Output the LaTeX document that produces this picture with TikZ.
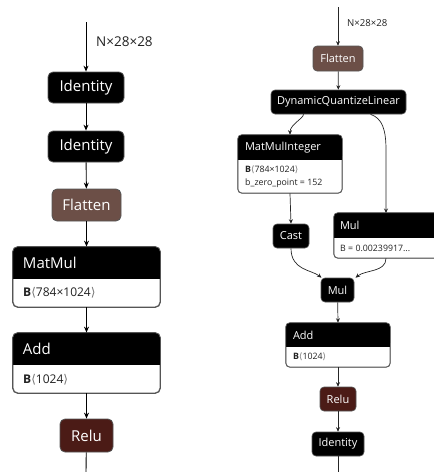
\documentclass[tikz,border=0pt]{standalone}
\usepackage{fontspec}
\setmainfont{Open Sans}
\newfontfamily\symf{DejaVu Sans}
\usetikzlibrary{arrows.meta}
\definecolor{flatc}{HTML}{6C4F47}
\definecolor{reluc}{HTML}{4B1B16}
\definecolor{txtc}{HTML}{222222}
\definecolor{bordc}{HTML}{555555}
\newcommand\lang{{\symf\color{black!55}⟨}}
\newcommand\rang{{\symf\color{black!55}⟩}}
\tikzset{
  opL/.style={draw=bordc, line width=0.8pt, rounded corners=5pt, text=white, inner sep=0pt,
    font=\fontsize{15}{17}\selectfont},
  opR/.style={draw=bordc, line width=0.6pt, rounded corners=4pt, text=white, inner sep=0pt,
    font=\fontsize{11}{13}\selectfont},
  boxL/.style={draw=bordc, line width=0.8pt, rounded corners=5pt, fill=white, inner sep=0pt},
  boxR/.style={draw=bordc, line width=0.6pt, rounded corners=4pt, fill=white, inner sep=0pt},
  hdrL/.style={fill=black, rounded corners=5pt, inner sep=0pt},
  hdrR/.style={fill=black, rounded corners=4pt, inner sep=0pt},
  htL/.style={text=white, inner sep=0pt, anchor=west, font=\fontsize{15}{17}\selectfont},
  htR/.style={text=white, inner sep=0pt, anchor=west, font=\fontsize{11}{13}\selectfont},
  btL/.style={text=txtc, inner sep=0pt, anchor=west, font=\fontsize{12}{14}\selectfont},
  btR/.style={text=txtc, inner sep=0pt, anchor=west, font=\fontsize{8.8}{10.5}\selectfont},
  edgeL/.style={draw=black, line width=0.9pt, -{Stealth[length=6pt,width=5pt]}},
  edgeR/.style={draw=black!85, line width=0.7pt, -{Stealth[length=4.5pt,width=4pt]}},
  lblL/.style={text=txtc, inner sep=0pt, anchor=west, font=\fontsize{13.5}{15}\selectfont},
  lblR/.style={text=txtc, inner sep=0pt, anchor=west, font=\fontsize{9.6}{11}\selectfont},
}
\begin{document}
\begin{tikzpicture}[x=1pt,y=-1pt]
\useasboundingbox (0,0) rectangle (434,472);
\clip (0,0) rectangle (434,472);
% ---------------- left column ----------------
\coordinate (inL) at (86,22);
\node[opL, fill=black, minimum width=76pt, minimum height=31pt] (id1) at (86,87.5) {Identity};
\node[opL, fill=black, minimum width=76pt, minimum height=31pt] (id2) at (86,146.5) {Identity};
\node[opL, fill=flatc, minimum width=69pt, minimum height=32pt] (fl1) at (86.5,205) {Flatten};
% MatMul
\node[boxL, minimum width=147pt, minimum height=60pt] (mm) at (86.5,277) {};
\node[hdrL, minimum width=147pt, minimum height=32pt, anchor=north] (mmh) at (mm.north) {};
\fill[black] ([yshift=8pt]mmh.south west) rectangle (mmh.south east);
\draw[bordc, line width=0.8pt, rounded corners=5pt] (mm.south west) rectangle (mm.north east);
\node[htL] (mmt) at ([xshift=10pt]mmh.west) {MatMul};
\node[btL] (mmb) at (23,293) {\textbf{B}\lang 784×1024\rang};
% Add
\node[boxL, minimum width=147pt, minimum height=60pt] (ad) at (86.5,363) {};
\node[hdrL, minimum width=147pt, minimum height=32pt, anchor=north] (adh) at (ad.north) {};
\fill[black] ([yshift=8pt]adh.south west) rectangle (adh.south east);
\draw[bordc, line width=0.8pt, rounded corners=5pt] (ad.south west) rectangle (ad.north east);
\node[htL] (adt) at ([xshift=10pt]adh.west) {Add};
\node[btL] (adb) at (23,380) {\textbf{B}\lang 1024\rang};
\node[opL, fill=reluc, minimum width=53pt, minimum height=33pt] (re1) at (86.5,435.5) {Relu};
\coordinate (outL) at (86,472);
\node[lblL] (lbl1) at (96,42) {N×28×28};
\draw[edgeL] (inL) -- (id1);
\draw[edgeL] (id1) -- (id2);
\draw[edgeL] (id2) -- (fl1);
\draw[edgeL] (fl1) -- (mm.north);
\draw[edgeL] (mm) -- (ad.north);
\draw[edgeL] (ad) -- (re1);
\draw[line width=0.9pt] (re1) -- (outL);
% ---------------- right column ----------------
\coordinate (inR) at (338,7);
\node[opR, fill=flatc, minimum width=50pt, minimum height=25pt] (fl2) at (338,58.5) {Flatten};
\node[opR, fill=black, minimum width=135pt, minimum height=24pt] (dql) at (338.5,102) {DynamicQuantizeLinear};
% MatMulInteger
\node[boxR, minimum width=104pt, minimum height=58pt] (mmi) at (290,164) {};
\node[hdrR, minimum width=104pt, minimum height=25pt, anchor=north] (mmih) at (mmi.north) {};
\fill[black] ([yshift=6pt]mmih.south west) rectangle (mmih.south east);
\draw[bordc, line width=0.6pt, rounded corners=4pt] (mmi.south west) rectangle (mmi.north east);
\node[htR] (mmit) at ([xshift=7pt]mmih.west) {MatMulInteger};
\node[btR] (mmib1) at (245,170) {\textbf{B}\lang 784×1024\rang};
\node[btR] (mmib2) at (245,183.5) {b\_zero\_point = 152};
% Mul (right, cut)
\node[boxR, minimum width=110pt, minimum height=45pt] (mr) at (389,235.5) {};
\node[hdrR, minimum width=110pt, minimum height=25pt, anchor=north] (mrh) at (mr.north) {};
\fill[black] ([yshift=6pt]mrh.south west) rectangle (mrh.south east);
\draw[bordc, line width=0.6pt, rounded corners=4pt] (mr.south west) rectangle (mr.north east);
\node[htR] (mrt) at ([xshift=6pt]mrh.west) {Mul};
\node[btR] (mrb) at (340,248) {B = 0.00239917...};
\node[opR, fill=black, minimum width=36pt, minimum height=24pt] (cast) at (291,236) {Cast};
\node[opR, fill=black, minimum width=33pt, minimum height=24pt] (mul) at (337.5,290) {Mul};
% Add (right)
\node[boxR, minimum width=104pt, minimum height=44pt] (ad2) at (338,345) {};
\node[hdrR, minimum width=104pt, minimum height=24pt, anchor=north] (ad2h) at (ad2.north) {};
\fill[black] ([yshift=6pt]ad2h.south west) rectangle (ad2h.south east);
\draw[bordc, line width=0.6pt, rounded corners=4pt] (ad2.south west) rectangle (ad2.north east);
\node[htR] (ad2t) at ([xshift=7pt]ad2h.west) {Add};
\node[btR] (ad2b) at (293,357) {\textbf{B}\lang 1024\rang};
\node[opR, fill=reluc, minimum width=36pt, minimum height=24pt] (re2) at (338,399) {Relu};
\node[opR, fill=black, minimum width=52pt, minimum height=24pt] (idr) at (338,444) {Identity};
\coordinate (outR) at (338,472);
\node[lblR] (lbl2) at (347,23) {N×28×28};
\draw[edgeR] (inR) -- (fl2);
\draw[edgeR] (fl2) -- (dql);
\draw[edgeR] ([xshift=-35pt]dql.south) .. controls +(0,4) and +(0,-10) .. (mmi.north);
\draw[edgeR] ([xshift=32pt]dql.south) .. controls +(12,4) and +(0,-20) .. (386,150) -- (386,213);
\draw[edgeR] (mmi.south) -- (cast.north);
\draw[edgeR] (cast.south) .. controls +(0,22) and +(-10,-8) .. ([xshift=-16pt]mul.north);
\draw[edgeR] (mr.south -| 386,0) .. controls +(0,14) and +(10,-8) .. ([xshift=18pt]mul.north);
\draw[edgeR] (mul) -- (ad2.north);
\draw[edgeR] (ad2) -- (re2);
\draw[edgeR] (re2) -- (idr);
\draw[line width=0.7pt, black!85] (idr) -- (outR);
\end{tikzpicture}
\end{document}
